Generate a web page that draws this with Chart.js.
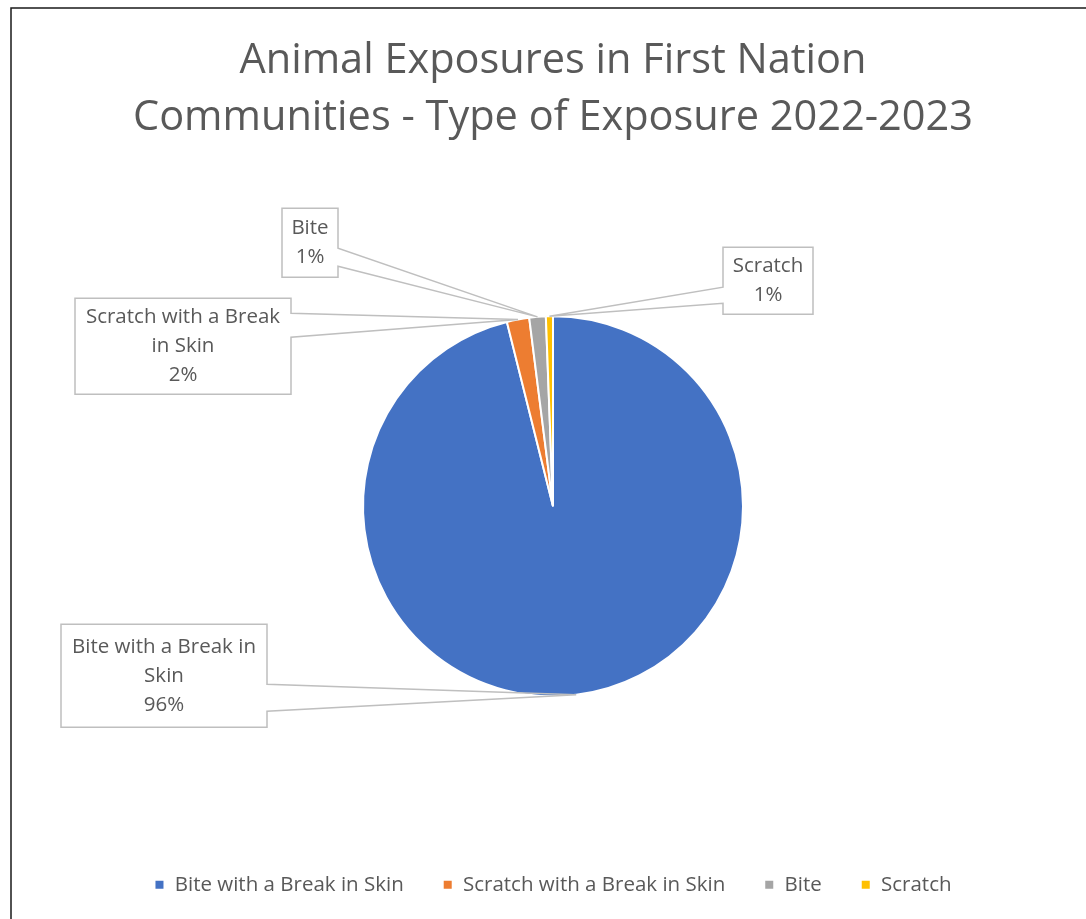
<!DOCTYPE html>
<html>
<head>
<meta charset="utf-8">
<title>Animal Exposures - Type of Exposure</title>
<script src="https://cdn.jsdelivr.net/npm/chart.js@4.4.1/dist/chart.umd.min.js"></script>
<style>
  html, body { margin: 0; padding: 0; background: #fff; }
  #wrap { width: 1086px; height: 919px; position: relative; }
</style>
</head>
<body>
<div id="wrap"><canvas id="myChart"></canvas></div>
<script>
const categories = [
  'Bite with a Break in Skin',
  'Scratch with a Break in Skin',
  'Bite',
  'Scratch',
];
// share of all exposures, in percent
const shares = [96.1, 1.9, 1.4, 0.6];
const sliceColors = ['#4472C4', '#ED7D31', '#A5A5A5', '#FFC000'];
const titleLines = [
  'Animal Exposures in First Nation',
  'Communities - Type of Exposure 2022-2023',
];

const FONT = "'Open Sans', 'Noto Sans', sans-serif";
const TEXT_GREY = '#595959';

// callout boxes, offset from the pie centre; tail = where the pointer leaves the box edge
const callouts = [
  { dx: -492, dy: 118, w: 206, h: 103, side: 'right', tail: [60, 87] },
  { dx: -478, dy: -208, w: 216, h: 96, side: 'right', tail: [15, 39] },
  { dx: -271, dy: -298, w: 56, h: 69, side: 'right', tail: [40, 58] },
  { dx: 170, dy: -259, w: 90, h: 67, side: 'left', tail: [40, 56] },
];

function wrapText(ctx, text, maxWidth) {
  const words = text.split(' ');
  const lines = [];
  let line = '';
  words.forEach((word) => {
    const test = line ? line + ' ' + word : word;
    if (line && ctx.measureText(test).width > maxWidth) {
      lines.push(line);
      line = word;
    } else {
      line = test;
    }
  });
  if (line) lines.push(line);
  return lines;
}

const chartFrame = {
  id: 'chartFrame',
  beforeDraw(chart) {
    const { ctx } = chart;
    ctx.save();
    ctx.fillStyle = '#fff';
    ctx.fillRect(0, 0, chart.width, chart.height);
    ctx.strokeStyle = '#1a1a1a';
    ctx.lineWidth = 1.5;
    ctx.strokeRect(11, 8, chart.width + 20, chart.height + 20);
    ctx.restore();
  },
};

const calloutLabels = {
  id: 'calloutLabels',
  afterDatasetsDraw(chart) {
    const { ctx } = chart;
    const meta = chart.getDatasetMeta(0);
    const values = chart.data.datasets[0].data;
    const total = values.reduce((a, b) => a + b, 0);

    ctx.save();
    meta.data.forEach((arc, i) => {
      const c = callouts[i];
      if (!c) return;
      const { x, y, startAngle, endAngle, outerRadius } = arc.getProps(
        ['x', 'y', 'startAngle', 'endAngle', 'outerRadius'], true);
      const mid = (startAngle + endAngle) / 2;
      const tipX = x + Math.cos(mid) * outerRadius;
      const tipY = y + Math.sin(mid) * outerRadius;

      const left = x + c.dx;
      const top = y + c.dy;
      const right = left + c.w;
      const bottom = top + c.h;

      ctx.fillStyle = '#fff';
      ctx.fillRect(left, top, c.w, c.h);

      ctx.beginPath();
      if (c.side === 'right') {
        ctx.moveTo(left, top);
        ctx.lineTo(right, top);
        ctx.lineTo(right, top + c.tail[0]);
        ctx.lineTo(tipX, tipY);
        ctx.lineTo(right, top + c.tail[1]);
        ctx.lineTo(right, bottom);
        ctx.lineTo(left, bottom);
      } else {
        ctx.moveTo(right, top);
        ctx.lineTo(right, bottom);
        ctx.lineTo(left, bottom);
        ctx.lineTo(left, top + c.tail[1]);
        ctx.lineTo(tipX, tipY);
        ctx.lineTo(left, top + c.tail[0]);
        ctx.lineTo(left, top);
      }
      ctx.closePath();
      ctx.strokeStyle = '#BFBFBF';
      ctx.lineWidth = 1.5;
      ctx.lineJoin = 'miter';
      ctx.stroke();

      ctx.font = '20.5px ' + FONT;
      ctx.fillStyle = TEXT_GREY;
      ctx.textAlign = 'center';
      ctx.textBaseline = 'middle';
      const pct = Math.round((values[i] / total) * 100) + '%';
      const lines = wrapText(ctx, chart.data.labels[i], c.w - 12).concat(pct);
      const lh = 29;
      const startY = top + c.h / 2 - ((lines.length - 1) * lh) / 2;
      lines.forEach((ln, k) => ctx.fillText(ln, left + c.w / 2, startY + k * lh));
    });
    ctx.restore();
  },
};

const ctx = document.getElementById('myChart').getContext('2d');
const myChart = new Chart(ctx, {
  type: 'pie',
  data: {
    labels: categories,
    datasets: [
      {
        data: shares,
        backgroundColor: sliceColors,
        borderColor: '#fff',
        borderWidth: 2,
        radius: 190,
      },
    ],
  },
  options: {
    responsive: true,
    maintainAspectRatio: false,
    animation: false,
    layout: {
      padding: { left: 20, right: 0, top: 0, bottom: 14 },
    },
    plugins: {
      title: {
        display: true,
        text: titleLines,
        color: TEXT_GREY,
        font: { family: FONT, size: 41.5, weight: 'normal', lineHeight: 1.373 },
        padding: { top: 33, bottom: 30 },
      },
      legend: {
        position: 'bottom',
        labels: {
          color: TEXT_GREY,
          font: { family: FONT, size: 20.5 },
          boxWidth: 10,
          boxHeight: 10,
          padding: 39,
        },
      },
      tooltip: { enabled: false },
    },
  },
  plugins: [chartFrame, calloutLabels],
});
</script>
</body>
</html>
